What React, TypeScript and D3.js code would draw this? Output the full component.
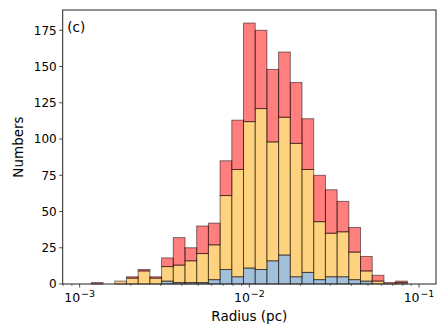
import React from "react";
import * as d3 from "d3";

// Histogram bins: log-spaced edges from 1e-3 to 1e-1 (29 bins)
const binCount = 29;
const logMin = -3;
const logMax = -1;
const binEdges = d3.range(binCount + 1).map((i) => Math.pow(10, logMin + ((logMax - logMin) * i) / binCount));

// Stacked series (counts per bin)
const blueCounts = [0, 0, 0, 0, 0, 0, 0, 2, 1, 1, 1, 3, 10, 5, 11, 10, 16, 20, 5, 8, 3, 5, 5, 3, 2, 0, 0, 0, 0];
const orangeCounts = [0, 0, 0, 2, 4, 9, 4, 10, 12, 15, 20, 24, 51, 74, 101, 111, 82, 95, 92, 71, 40, 30, 31, 19, 7, 2, 0, 1, 0];
const redCounts = [0, 1, 0, 0, 1, 1, 1, 6, 19, 9, 19, 15, 24, 34, 68, 54, 50, 45, 42, 35, 32, 30, 21, 17, 10, 4, 1, 1, 0];

const yTicks = [0, 25, 50, 75, 100, 125, 150, 175];
const xMajorTicks = [-3, -2, -1];
const panelLabel = "(c)";
const xLabel = "Radius (pc)";
const yLabel = "Numbers";

const seriesList = [
  { name: "blue", color: "#4682b4", values: blueCounts },
  { name: "orange", color: "#ffa500", values: orangeCounts },
  { name: "red", color: "#ff0000", values: redCounts },
];

export default function App() {
  const W = 448, H = 336;
  const left = 62.7, right = 436, top = 10, bottom = 284;
  const font = "DejaVu Sans, sans-serif";

  const totals = d3.range(binCount).map((i) => blueCounts[i] + orangeCounts[i] + redCounts[i]);
  const maxTotal = d3.max(totals) as number;

  const span = logMax - logMin;
  const x = d3.scaleLog().domain([Math.pow(10, logMin - 0.05 * span), Math.pow(10, logMax + 0.05 * span)]).range([left, right]);
  const y = d3.scaleLinear().domain([0, maxTotal * 1.05]).range([bottom, top]);

  const [d0, d1] = x.domain();
  const minorTicks: number[] = [];
  for (let e = -4; e <= 0; e++) {
    for (let m = 2; m <= 9; m++) {
      const v = m * Math.pow(10, e);
      if (v >= d0 && v <= d1) minorTicks.push(v);
    }
  }

  const rects: React.ReactNode[] = [];
  const base = new Array(binCount).fill(0);
  seriesList.forEach((s) => {
    for (let i = 0; i < binCount; i++) {
      const v = s.values[i];
      const y0 = base[i];
      const y1 = y0 + v;
      base[i] = y1;
      const x0 = x(binEdges[i]);
      const x1 = x(binEdges[i + 1]);
      rects.push(
        <rect
          key={s.name + i}
          x={x0}
          y={y(y1)}
          width={x1 - x0}
          height={Math.max(0, y(y0) - y(y1))}
          fill={s.color}
          fillOpacity={0.5}
          stroke="#000"
          strokeOpacity={0.5}
          strokeWidth={1}
        />
      );
    }
  });

  return (
    <svg width={W} height={H} style={{ position: "absolute", left: 0, top: 0, background: "#fff" }} fontFamily={font}>
      <g>{rects}</g>
      {/* spines */}
      <rect x={left} y={top} width={right - left} height={bottom - top} fill="none" stroke="#222" strokeWidth={1} />
      {/* y ticks */}
      {yTicks.map((t) => (
        <g key={"y" + t}>
          <line x1={left - 3.5} x2={left} y1={y(t)} y2={y(t)} stroke="#222" strokeWidth={0.8} />
          <text x={left - 6} y={y(t)} dy="0.36em" textAnchor="end" fontSize={12} fill="#000">
            {t}
          </text>
        </g>
      ))}
      {/* x ticks */}
      {minorTicks.map((t, i) => (
        <line key={"m" + i} x1={x(t)} x2={x(t)} y1={bottom} y2={bottom + 2} stroke="#222" strokeWidth={0.6} />
      ))}
      {xMajorTicks.map((e) => (
        <g key={"x" + e}>
          <line x1={x(Math.pow(10, e))} x2={x(Math.pow(10, e))} y1={bottom} y2={bottom + 3.5} stroke="#222" strokeWidth={0.8} />
          <text x={x(Math.pow(10, e))} y={bottom + 18} textAnchor="middle" fontSize={12.5} fill="#000">
            10
            <tspan dx={0.8} dy={-5.5} fontSize={9.5}>{"\u2212" + Math.abs(e)}</tspan>
          </text>
        </g>
      ))}
      <text x={(left + right) / 2} y={bottom + 37} textAnchor="middle" fontSize={13.5} fill="#000">
        {xLabel}
      </text>
      <text transform={`translate(${23},${(top + bottom) / 2}) rotate(-90)`} textAnchor="middle" fontSize={13.5} fill="#000">
        {yLabel}
      </text>
      <text x={left + 4.5} y={top + 22} fontSize={13.5} fill="#000">
        {panelLabel}
      </text>
    </svg>
  );
}
